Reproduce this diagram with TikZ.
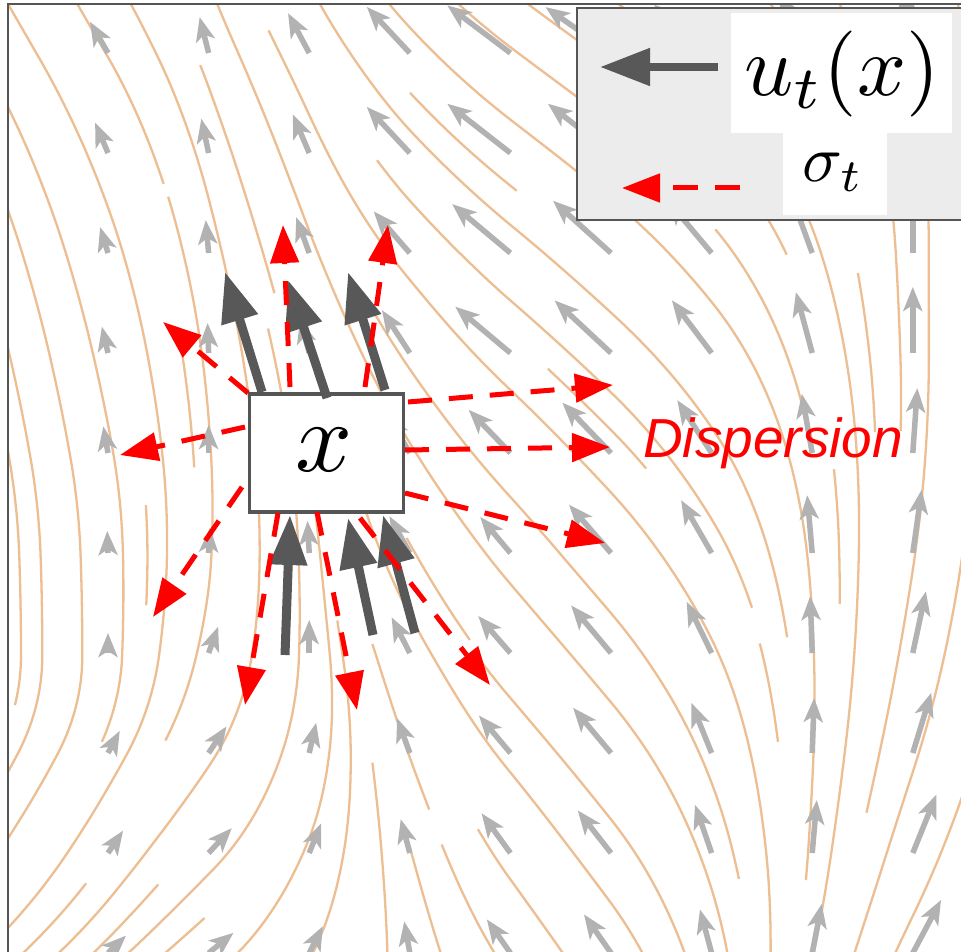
\documentclass[tikz,border=0pt]{standalone}
\usepackage{graphicx}
\usepackage{fontspec}
\newfontfamily\dispfont{Liberation Sans}
\usetikzlibrary{arrows.meta}
\definecolor{streamc}{RGB}{236,190,146}
\definecolor{framec}{RGB}{85,85,85}
\definecolor{darkarr}{RGB}{88,88,88}
\definecolor{legbg}{RGB}{236,236,236}
\definecolor{qgray}{RGB}{178,178,178}

\newcommand\gridrow[3]{\foreach \v [count=\c from 0] in {#3}{\expandafter\xdef\csname #1#2-\c\endcsname{\v}}}
% streamline angle field (deg, positive = leaning left)
\gridrow{SLT}{0}{30,22,28,43,53,55,50,30,8}
\gridrow{SLT}{1}{23,17,23,43,52,52,45,25,3}
\gridrow{SLT}{2}{17,12,20,41,50,48,40,20,0}
\gridrow{SLT}{3}{13,7,15,35,48,47,37,15,0}
\gridrow{SLT}{4}{10,3,8,31,44,44,33,10,-4}
\gridrow{SLT}{5}{2,-3,3,29,40,41,30,5,-8}
\gridrow{SLT}{6}{0,-15,0,27,41,40,26,2,-12}
\gridrow{SLT}{7}{-28,-32,-13,20,40,40,22,-2,-17}
\gridrow{SLT}{8}{-34,-43,-22,15,36,38,19,-5,-22}
\gridrow{SLT}{9}{-46,-51,-27,10,35,35,15,-11,-28}
% quiver angles
\gridrow{QA}{0}{30,14,28,43,53,55,50,30,8}
\gridrow{QA}{1}{23,12,23,43,52,52,45,25,3}
\gridrow{QA}{2}{17,5,20,41,50,48,40,20,0}
\gridrow{QA}{3}{13,2,15,33,50,47,37,15,0}
\gridrow{QA}{4}{10,0,8,30,44,44,33,10,-4}
\gridrow{QA}{5}{2,-3,3,29,40,41,30,5,-8}
\gridrow{QA}{6}{0,-20,0,27,41,40,26,2,-12}
\gridrow{QA}{7}{-28,-34,-13,20,40,40,22,-2,-17}
\gridrow{QA}{8}{-34,-43,-22,15,36,38,19,-5,-22}
\gridrow{QA}{9}{-46,-51,-27,10,35,35,15,-11,-28}
% quiver lengths
\gridrow{QL}{0}{36,37,45,63,79,80,75,68,66}
\gridrow{QL}{1}{33,35,42,63,80,80,72,66,66}
\gridrow{QL}{2}{27,33,38,55,76,78,68,64,66}
\gridrow{QL}{3}{27,30,35,51,72,77,66,63,66}
\gridrow{QL}{4}{27,28,33,45,60,70,63,60,65}
\gridrow{QL}{5}{22,25,32,42,47,64,61,58,64}
\gridrow{QL}{6}{20,28,33,40,49,62,57,57,63}
\gridrow{QL}{7}{25,32,31,37,49,59,54,55,63}
\gridrow{QL}{8}{27,34,32,35,49,54,51,53,63}
\gridrow{QL}{9}{25,32,30,32,41,47,45,50,60}

\newcommand\SLgetdir[2]{%
  \pgfmathsetmacro\SLfi{max(0,min(7.999,(#1-108)/100.6))}%
  \pgfmathsetmacro\SLfj{max(0,min(8.999,(#2-53)/100))}%
  \pgfmathtruncatemacro\SLii{\SLfi}%
  \pgfmathtruncatemacro\SLjj{\SLfj}%
  \pgfmathsetmacro\SLfx{\SLfi-\SLii}%
  \pgfmathsetmacro\SLfy{\SLfj-\SLjj}%
  \edef\SLta{\csname SLT\SLjj-\SLii\endcsname}%
  \edef\SLtb{\csname SLT\SLjj-\the\numexpr\SLii+1\relax\endcsname}%
  \edef\SLtc{\csname SLT\the\numexpr\SLjj+1\relax-\SLii\endcsname}%
  \edef\SLtd{\csname SLT\the\numexpr\SLjj+1\relax-\the\numexpr\SLii+1\relax\endcsname}%
  \pgfmathsetmacro\SLth{(1-\SLfx)*(1-\SLfy)*(\SLta)+\SLfx*(1-\SLfy)*(\SLtb)+(1-\SLfx)*\SLfy*(\SLtc)+\SLfx*\SLfy*(\SLtd)}%
}
\newif\ifSLgo
\newcount\SLnsteps
\protected\def\SLunmark#1#2{\global\expandafter\let\csname M-#1-#2\endcsname\relax}
\newcommand\SLaddpt[3]{\ifnum#1>0 \xdef\SLpts{\SLpts (#2,#3)}\else\xdef\SLpts{(#2,#3) \SLpts}\fi}
\newcommand\SLtrace[4]{%
  \xdef\SLx{#1}\xdef\SLy{#2}\global\SLgotrue
  \xdef\SLcx{\SLsci}\xdef\SLcy{\SLscj}%
  \foreach \SLk in {1,...,#3}{%
    \ifSLgo
      \SLgetdir{\SLx}{\SLy}%
      \pgfmathsetmacro\SLnx{\SLx-(#4)*5*sin(\SLth)}%
      \pgfmathsetmacro\SLny{\SLy-(#4)*5*cos(\SLth)}%
      \pgfmathtruncatemacro\SLout{(\SLnx<8)||(\SLnx>1013)||(\SLny<4)||(\SLny>1002)}%
      \ifnum\SLout=1
        \global\SLgofalse
        \SLaddpt{#4}{\SLnx}{\SLny}%
      \else
        \pgfmathtruncatemacro\SLci{round((\SLnx-8)/34.655)}%
        \pgfmathtruncatemacro\SLcj{round((1002-\SLny)/34.414)}%
        \def\SLsame{0}%
        \ifnum\SLci=\SLcx\relax\ifnum\SLcj=\SLcy\relax\def\SLsame{1}\fi\fi
        \ifnum\SLsame=0
          \expandafter\ifx\csname M-\SLci-\SLcj\endcsname\relax
            \expandafter\xdef\csname M-\SLci-\SLcj\endcsname{1}%
            \xdef\SLundo{\SLundo\noexpand\SLunmark{\SLci}{\SLcj}}%
            \xdef\SLcx{\SLci}\xdef\SLcy{\SLcj}%
          \else
            \global\SLgofalse
          \fi
        \fi
        \ifSLgo
          \xdef\SLx{\SLnx}\xdef\SLy{\SLny}%
          \SLaddpt{#4}{\SLx}{\SLy}%
          \global\advance\SLnsteps by 1
        \fi
      \fi
    \fi}}
\newcommand\SLseed[2]{%
  \expandafter\ifx\csname M-#1-#2\endcsname\relax
    \expandafter\xdef\csname M-#1-#2\endcsname{1}%
    \xdef\SLundo{\noexpand\SLunmark{#1}{#2}}%
    \pgfmathsetmacro\SLsx{8+#1*34.655}%
    \pgfmathsetmacro\SLsy{1002-#2*34.414}%
    \xdef\SLpts{(\SLsx,\SLsy)}%
    \global\SLnsteps=0
    \xdef\SLsci{#1}\xdef\SLscj{#2}%
    \SLtrace{\SLsx}{\SLsy}{320}{-1}%
    \SLtrace{\SLsx}{\SLsy}{320}{1}%
    \ifnum\SLnsteps>19
      \edef\SLdo{\noexpand\draw[stream] plot coordinates {\SLpts};}\SLdo
    \else
      \SLundo
    \fi
  \fi}
\newcount\spx \newcount\spy \newcount\spxf \newcount\spyf
\newcount\spxl \newcount\spyl \newcount\spdir \newcount\spi

\begin{document}
\begin{tikzpicture}[x=1pt,y=-1pt,
  stream/.style={draw=streamc,line width=2.3pt,line join=round},
  qarrow/.style={draw=qgray,line width=5.5pt,-{Stealth[length=24pt,width=19pt,inset=6pt]}},
  uarrow/.style={draw=darkarr,line width=9pt,-{Triangle[length=50pt,width=36pt]}},
  sarrow/.style={draw=red,line width=5pt,dash pattern=on 24pt off 17pt,-{Triangle[length=38pt,width=28pt]}}]
\useasboundingbox (0,0) rectangle (961,952);
\fill[white] (0,0) rectangle (961,952);
\begin{scope}
\clip (8,4) rectangle (961,952);
% streamlines (spiral seeding with occupancy mask)
\spx=0 \spy=0 \spxf=0 \spyf=1 \spxl=29 \spyl=29 \spdir=0 \spi=0
\loop
  \begingroup\SLseed{\the\spx}{\the\spy}\endgroup
  \ifcase\spdir
    \advance\spx by 1 \ifnum\spx<\spxl\else\advance\spxl by -1 \spdir=1 \fi
  \or
    \advance\spy by 1 \ifnum\spy<\spyl\else\advance\spyl by -1 \spdir=2 \fi
  \or
    \advance\spx by -1 \ifnum\spx>\spxf\else\advance\spxf by 1 \spdir=3 \fi
  \or
    \advance\spy by -1 \ifnum\spy>\spyf\else\advance\spyf by 1 \spdir=0 \fi
  \fi
  \advance\spi by 1
\ifnum\spi<900 \repeat
% quiver
\foreach \j in {0,...,9}{\foreach \i in {0,...,8}{%
  \edef\qa{\csname QA\j-\i\endcsname}\edef\ql{\csname QL\j-\i\endcsname}%
  \draw[qarrow] ({108+100.6*\i},{53+100*\j}) -- ++({-\ql*sin(\qa)},{-\ql*cos(\qa)});}}
\end{scope}
% central box
\node[draw=framec,fill=white,line width=3.5pt,minimum width=154pt,minimum height=118pt,inner sep=0pt] (xbox) at (326.5,453) {};
\node (xlab) at (324,450) {\scalebox{10}{$x$}};
% velocity arrows
\coordinate (a1s) at (262,392); \coordinate (a1e) at (225,272);
\coordinate (a2s) at (327,398); \coordinate (a2e) at (288,280);
\coordinate (a3s) at (385,390); \coordinate (a3e) at (348,272);
\coordinate (b1s) at (285,655); \coordinate (b1e) at (290,515);
\coordinate (b2s) at (373,635); \coordinate (b2e) at (348,518);
\coordinate (b3s) at (415,633); \coordinate (b3e) at (383,515);
\foreach \n in {a1,a2,a3,b1,b2,b3}{\draw[uarrow] (\n s) -- (\n e);}
% dispersion arrows
\coordinate (r1s) at (248,393); \coordinate (r1e) at (163,322);
\coordinate (r2s) at (290,387); \coordinate (r2e) at (283,225);
\coordinate (r3s) at (365,387); \coordinate (r3e) at (388,225);
\coordinate (r4s) at (245,427); \coordinate (r4e) at (120,455);
\coordinate (r5s) at (242,487); \coordinate (r5e) at (153,617);
\coordinate (r6s) at (278,513); \coordinate (r6e) at (245,705);
\coordinate (r7s) at (317,512); \coordinate (r7e) at (357,710);
\coordinate (r8s) at (360,518); \coordinate (r8e) at (490,685);
\coordinate (r9s) at (408,402); \coordinate (r9e) at (613,385);
\coordinate (r10s) at (405,450); \coordinate (r10e) at (610,447);
\coordinate (r11s) at (405,493); \coordinate (r11e) at (605,543);
\foreach \n in {r1,r2,r3,r4,r5,r6,r7,r8,r9,r10,r11}{\draw[sarrow] (\n s) -- (\n e);}
\node[anchor=base west,text=red,inner sep=0pt] (disp) at (643,457) {\fontsize{55}{60}\selectfont\dispfont\itshape Dispersion};
% legend
\draw[draw=framec,fill=legbg,line width=2pt] (577,8) rectangle (975,220);
\fill[white] (731,13) rectangle (952,133);
\fill[white] (783,133) rectangle (887,215);
\node (ulab) at (842,74) {\scalebox{8.6}{$u_t(x)$}};
\node (slab) at (833,172) {\scalebox{6.6}{$\sigma_t$}};
\coordinate (lus) at (718,67); \coordinate (lue) at (600,67);
\draw[uarrow,line width=8pt] (lus) -- (lue);
\coordinate (lss) at (740,188); \coordinate (lse) at (622,188);
\draw[sarrow,dash pattern=on 25pt off 17pt] (lss) -- (lse);
% frame
\draw[framec,line width=2.5pt] (8,960) -- (8,4) -- (970,4);
\end{tikzpicture}
\end{document}
